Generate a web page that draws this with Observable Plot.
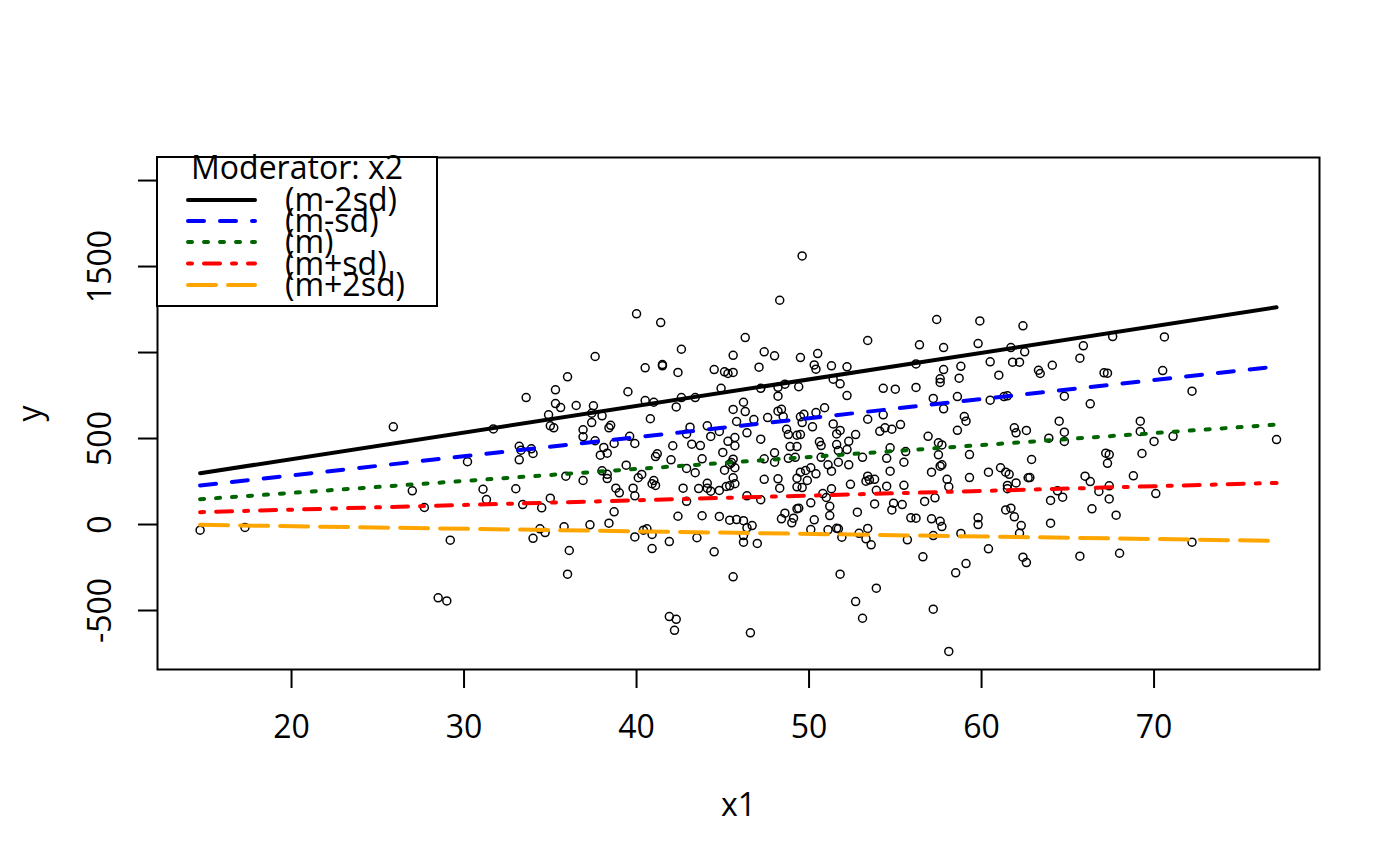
<!DOCTYPE html>
<html><head><meta charset="utf-8">
<script src="https://cdn.jsdelivr.net/npm/d3@7"></script>
<script src="https://cdn.jsdelivr.net/npm/@observablehq/plot@0.6"></script>
<style>
body{margin:0;background:#fff;}
#wrap{position:relative;width:1400px;height:866px;}
</style></head><body><div id="wrap"></div>
<script>
const x1 = [25.9,30.2,14.7,17.3,27.0,27.7,29.2,28.5,29.0,40.0,41.4,46.3,42.6,45.6,37.6,40.5,41.5,41.5,42.4,44.5,
45.1,45.3,45.6,36.0,35.3,39.5,44.9,33.6,35.3,35.6,36.5,37.5,40.5,41.0,42.6,43.4,42.3,46.2,45.6,46.3,
34.9,37.4,38.0,40.8,37.4,35.0,35.2,31.7,36.9,38.5,38.4,43.1,44.1,45.8,46.4,36.9,37.6,39.6,42.9,44.3,
44.8,45.7,38.7,39.9,43.2,43.7,45.3,45.7,33.2,33.3,33.9,34.0,38.1,37.9,38.3,42.1,45.0,41.2,41.1,33.2,
42.0,43.8,45.6,45.5,45.4,39.4,42.9,43.4,45.1,45.7,38.0,35.9,38.3,40.3,36.9,45.6,38.3,40.1,41.0,40.9,
41.1,42.7,44.1,44.1,44.3,44.8,45.2,45.4,45.7,43.6,31.1,31.3,33.0,33.4,34.5,35.0,38.8,39.0,39.8,39.9,
38.7,38.4,37.3,35.8,34.4,34.7,34.0,36.1,36.0,40.4,40.6,40.9,39.9,40.9,41.9,42.4,42.9,43.8,44.8,43.5,
44.5,45.6,45.4,45.8,46.2,46.4,46.4,46.2,46.2,41.9,42.3,42.2,46.6,49.6,48.3,57.4,59.9,62.4,53.4,56.4,
57.8,59.8,47.4,48.0,49.5,50.5,47.1,50.3,50.4,51.3,52.2,61.7,62.5,56.2,57.8,58.8,60.5,61.8,62.2,61.0,
47.2,48.2,48.6,49.4,51.4,51.8,57.6,57.6,58.7,54.3,55.0,56.2,48.2,52.2,57.2,58.6,60.5,61.3,61.5,57.8,
50.9,48.2,48.4,48.5,46.8,47.6,49.5,49.7,49.6,50.4,54.3,53.4,59.0,59.1,48.7,48.8,49.3,49.5,50.2,51.4,
51.6,51.8,52.7,54.1,54.4,54.8,55.3,56.9,58.6,61.9,62.0,62.6,47.2,50.6,50.7,51.6,52.3,52.2,51.7,48.9,
49.3,48.0,54.7,55.6,57.5,57.7,57.5,59.3,47.4,48.0,48.8,49.2,50.7,51.1,51.3,51.7,52.3,53.1,54.5,54.7,
55.5,57.1,57.6,57.7,59.3,60.4,61.1,61.4,61.6,62.7,47.4,48.2,48.3,49.3,49.5,49.8,50.1,50.4,49.9,49.3,
49.6,51.3,50.8,51.0,52.4,53.4,53.3,53.5,53.8,53.9,54.5,55.5,58.0,58.1,61.5,61.5,62.0,47.2,57.3,56.7,
53.8,54.9,54.8,55.4,50.1,51.2,51.2,49.3,49.4,48.6,49.1,48.4,49.0,52.8,50.3,55.9,56.2,57.1,57.6,57.7,
59.8,59.8,61.4,61.7,61.9,62.3,62.2,46.7,50.1,51.1,51.6,51.7,51.9,52.9,53.4,53.3,53.6,55.7,57.2,58.8,
47.0,60.4,56.6,59.1,58.5,62.4,62.6,51.8,53.9,52.7,53.1,57.2,58.1,67.6,70.6,65.9,65.7,64.1,63.3,63.4,
67.1,67.3,70.5,72.2,64.8,66.3,64.5,64.8,63.9,64.8,69.2,69.2,71.1,70.0,77.1,67.2,67.4,67.3,69.3,62.9,
62.8,66.0,66.3,68.8,67.4,64.4,64.7,64.0,66.8,67.4,70.1,66.4,67.8,64.0,65.7,68.0,72.2];
const y = [568,365,-33,-17,196,99,-91,-426,-444,1225,1174,1087,1019,984,977,911,930,923,884,901,
888,878,884,859,783,772,792,738,703,680,692,690,721,711,738,738,684,711,669,657,
638,647,632,615,593,574,562,556,551,577,562,566,574,599,533,510,487,513,527,512,
541,506,471,471,467,459,484,458,455,432,440,413,448,403,415,458,419,411,395,376,
376,382,380,360,351,345,326,301,316,330,312,281,292,291,256,272,267,272,256,237,
227,211,240,211,194,198,221,225,237,209,205,145,208,116,97,153,211,184,211,167,
74,8,-2,-13,-25,-47,-80,-151,-289,-33,-25,-58,-72,-140,-99,48,135,51,47,-77,
-159,-304,25,29,22,167,-19,-64,-103,-535,-551,-615,-630,1562,1304,1192,1184,1155,1070,1045,
1029,1052,1004,981,971,994,915,928,903,923,917,1029,1004,934,901,920,946,944,944,868,
792,798,816,801,845,818,847,826,851,792,787,797,746,750,733,744,723,744,748,673,
679,659,670,628,610,622,626,641,593,651,638,612,628,601,554,523,519,523,568,585,
527,547,523,542,562,554,581,513,548,562,533,547,496,481,459,465,484,436,430,453,
453,417,446,424,475,463,405,407,382,362,385,391,391,347,310,362,347,391,385,310,
362,304,339,347,273,304,330,304,292,272,263,266,211,269,304,314,330,295,256,219,
215,208,180,157,234,281,252,260,263,199,223,228,263,219,227,208,242,144,155,134,
120,124,85,116,126,106,52,91,95,66,37,33,10,72,27,39,37,33,19,-12,
39,0,85,95,45,-6,-51,-6,-29,-31,-22,-25,-74,-51,-23,-83,-118,-89,-64,-52,
-110,-141,-188,-227,-281,-190,-221,-289,-370,-448,-545,-492,-738,1093,1091,1039,967,926,897,878,
882,880,895,775,746,702,601,537,502,483,601,541,513,483,494,415,407,356,413,378,
273,281,250,283,225,196,159,140,192,149,180,91,54,8,-184,-167,-103];

const lineX = [14.7, 77.1];
const seriesNames = ["(m-2sd)", "(m-sd)", "(m)", "(m+sd)", "(m+2sd)"];
const seriesColors = ["black", "blue", "darkgreen", "red", "orange"];
const seriesDash = ["none", "16,16", "4,12", "4,12,16,12", "28,12"];
const seriesStart = [298, 227, 147, 72, -2];
const seriesEnd = [1263, 919, 581, 242, -95];
const xTicks = [20, 30, 40, 50, 60, 70];
const yTicks = [-500, 0, 500, 1000, 1500, 2000];
const yTickLabels = ["-500", "0", "500", "", "1500", ""];
const legendTitle = "Moderator: x2";

const pts = x1.map((v, i) => ({x: v, y: y[i]}));
const lines = seriesNames.map((s, i) => [
  {x: lineX[0], y: seriesStart[i]},
  {x: lineX[1], y: seriesEnd[i]}
]);

const font = "'Open Sans', sans-serif";
const T = {fontSize: 32, fill: "black", textAnchor: "middle", lineAnchor: "middle"};
const chart = Plot.plot({
  width: 1400, height: 866,
  marginLeft: 157, marginRight: 81, marginTop: 157, marginBottom: 197,
  style: {fontFamily: font, fontSize: "32px", background: "white", overflow: "visible"},
  x: {domain: [12.23, 79.59]},
  y: {domain: [-843, 2134]},
  marks: [
    Plot.dot(pts, {x: "x", y: "y", r: 4, stroke: "black", strokeWidth: 1.5, fill: "none"}),
    ...lines.map((L, i) => Plot.line(L, {x: "x", y: "y", stroke: seriesColors[i], strokeWidth: 4,
      strokeDasharray: seriesDash[i], strokeLinecap: "round"})),
    Plot.frame({stroke: "black", strokeWidth: 2}),
    Plot.axisX(xTicks, {tickSize: 19, strokeWidth: 2, tickFormat: () => "", label: null}),
    Plot.axisY(yTicks, {tickSize: 19, strokeWidth: 2, tickFormat: () => "", label: null}),
    Plot.text(xTicks, {x: d => d, text: d => String(d), frameAnchor: "bottom", dy: 58, ...T}),
    Plot.text(yTicks, {y: d => d, text: (d, i) => yTickLabels[i], frameAnchor: "left", dx: -57, rotate: -90, ...T}),
    Plot.text(["x1"], {text: d => d, frameAnchor: "bottom", dy: 136, ...T}),
    Plot.text(["y"], {text: d => d, frameAnchor: "left", dx: -127, rotate: -90, ...T})
  ]
});
const wrap = document.getElementById("wrap");
wrap.appendChild(chart);

// legend overlay
const Lg = d3.create("svg").attr("width", 1400).attr("height", 866)
  .style("position", "absolute").style("left", "0px").style("top", "0px")
  .style("pointer-events", "none")
  .style("font-family", font).style("font-size", "32px");
Lg.append("rect").attr("x", 157).attr("y", 157).attr("width", 280).attr("height", 149)
  .attr("fill", "white").attr("stroke", "black").attr("stroke-width", 2);
Lg.append("text").attr("x", 297).attr("y", 179).attr("text-anchor", "middle").attr("fill", "black").text(legendTitle);
const rowY = [200, 221, 242, 263.5, 285];
seriesNames.forEach((s, i) => {
  Lg.append("line").attr("x1", 188).attr("x2", 255).attr("y1", rowY[i]).attr("y2", rowY[i])
    .attr("stroke", seriesColors[i]).attr("stroke-width", 4).attr("stroke-linecap", "round")
    .attr("stroke-dasharray", seriesDash[i]);
  Lg.append("text").attr("x", 285).attr("y", rowY[i] + 11).attr("fill", "black").text(s);
});
wrap.appendChild(Lg.node());
</script></body></html>
